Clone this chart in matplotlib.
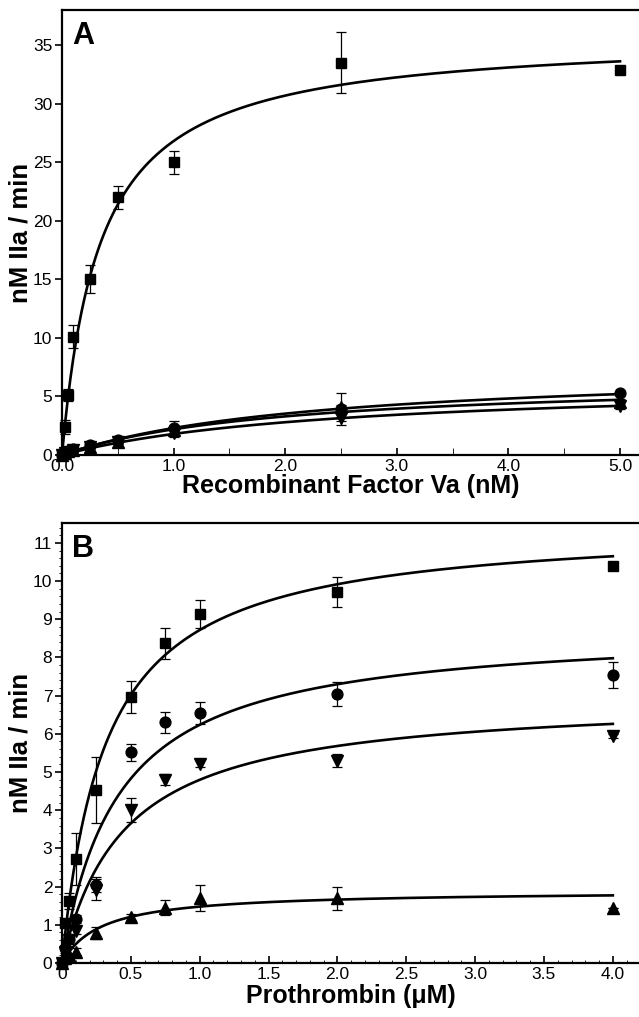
import numpy as np
import matplotlib
matplotlib.use("Agg")
import matplotlib.pyplot as plt
from matplotlib.ticker import MultipleLocator, FixedLocator

plt.rcParams['font.family'] = ['Liberation Sans', 'DejaVu Sans']

# panel A: rate vs recombinant factor Va (nM)
fva = [0, 0.025, 0.05, 0.1, 0.25, 0.5, 1.0, 2.5, 5.0]
a_sq = [0, 2.4, 5.1, 10.1, 15.0, 22.0, 25.0, 33.5, 32.9]
a_sq_err = [0, 0.6, 0.5, 1.0, 1.2, 1.0, 1.0, 2.6, 0]
a_ci = [0, 0.2, 0.35, 0.55, 0.85, 1.25, 2.3, 3.9, 5.3]
a_ci_err = [0, 0, 0, 0.1, 0.15, 0.2, 0.6, 0.4, 0.2]
a_tu = [0, 0.15, 0.3, 0.45, 0.7, 1.15, 2.1, 4.1, 4.5]
a_tu_err = [0, 0, 0, 0.1, 0.1, 0.15, 0.3, 1.2, 0.3]
a_td = [0, 0.15, 0.25, 0.4, 0.65, 1.1, 1.9, 3.2, 4.2]
a_td_err = [0, 0, 0, 0.1, 0.1, 0.15, 0.4, 0.6, 0.3]
# fitted hyperbola parameters (Vmax, Km)
a_fits = {'s': (35.9, 0.339), 'o': (7.6, 2.3), '^': (6.6, 2.0), 'v': (6.3, 2.5)}

# panel B: rate vs prothrombin (uM)
fii = [0, 0.025, 0.05, 0.1, 0.25, 0.5, 0.75, 1.0, 2.0, 4.0]
b_sq = [0, 1.05, 1.62, 2.72, 4.53, 6.97, 8.37, 9.14, 9.71, 10.39]
b_sq_err = [0, 0.1, 0.2, 0.68, 0.87, 0.42, 0.4, 0.37, 0.4, 0]
b_ci = [0, 0.4, 0.62, 1.15, 2.05, 5.52, 6.3, 6.54, 7.04, 7.54]
b_ci_err = [0, 0.05, 0.1, 0.1, 0.2, 0.22, 0.27, 0.29, 0.32, 0.34]
b_td = [0, 0.3, 0.6, 0.85, 1.92, 4.0, 4.8, 5.22, 5.3, 5.95]
b_td_err = [0, 0.05, 0.1, 0.1, 0.28, 0.32, 0.15, 0.1, 0.17, 0.05]
b_tu = [0, 0.12, 0.2, 0.3, 0.78, 1.2, 1.45, 1.7, 1.7, 1.45]
b_tu_err = [0, 0.05, 0.05, 0.1, 0.15, 0.08, 0.2, 0.35, 0.3, 0]
b_fits = {'s': (11.5, 0.319), 'o': (8.8, 0.411), 'v': (6.97, 0.453), '^': (1.896, 0.284)}

msize = {'s': 7.3, 'o': 7.8, '^': 8.3, 'v': 8.3}


def draw(ax, x, series, fits):
    xf = np.linspace(0, max(x), 400)
    for mk, (vmax, km) in fits.items():
        ax.plot(xf, vmax * xf / (km + xf), color='black', lw=1.9, zorder=2, clip_on=False)
    for mk, y, err in series:
        ax.errorbar(x, y, yerr=err, fmt='none', ecolor='black', elinewidth=0.9,
                    capsize=3.3, capthick=0.9, zorder=3, clip_on=False)
        ax.plot(x, y, linestyle='none', marker=mk, ms=msize[mk], color='black',
                zorder=4, clip_on=False)


fig = plt.figure(figsize=(6.39, 10.17), dpi=100)
ax1 = fig.add_axes([0.097, 0.5526, 0.903, 0.4375])
ax2 = fig.add_axes([0.097, 0.0531, 0.903, 0.4326])

draw(ax1, fva, [('s', a_sq, a_sq_err), ('o', a_ci, a_ci_err),
                ('^', a_tu, a_tu_err), ('v', a_td, a_td_err)], a_fits)
draw(ax2, fii, [('s', b_sq, b_sq_err), ('o', b_ci, b_ci_err),
                ('v', b_td, b_td_err), ('^', b_tu, b_tu_err)], b_fits)

for ax in (ax1, ax2):
    ax.spines['right'].set_visible(False)
    for s in ('left', 'bottom', 'top'):
        ax.spines[s].set_linewidth(1.6)
    ax.tick_params(labelsize=12.5, width=1.2)
    ax.tick_params(axis='x', which='both', direction='in', top=False, pad=3)
    ax.tick_params(axis='y', which='both', direction='out', right=False, pad=2)

# top panel axes
ax1.set_xlim(0, 5.17)
ax1.set_ylim(0, 38)
ax1.xaxis.set_major_locator(MultipleLocator(1))
ax1.xaxis.set_minor_locator(MultipleLocator(0.5))
ax1.set_xticklabels([f'{v:.1f}' for v in ax1.get_xticks()])
ax1.yaxis.set_major_locator(FixedLocator([0, 5, 10, 15, 20, 25, 30, 35]))
ax1.tick_params(axis='x', which='both', length=5)
ax1.tick_params(axis='y', which='major', length=5)
ax1.set_xlabel('Recombinant Factor Va (nM)', fontsize=18, fontweight='bold', labelpad=0)
ax1.set_ylabel('nM IIa / min', fontsize=18.5, fontweight='bold')
ax1.yaxis.set_label_coords(-0.051, 0.5)
ax1.text(0.018, 0.975, 'A', transform=ax1.transAxes, fontsize=22, fontweight='bold',
         va='top', ha='left')

# bottom panel axes
ax2.set_xlim(0, 4.19)
ax2.set_ylim(0, 11.52)
ax2.xaxis.set_major_locator(MultipleLocator(0.5))
ax2.xaxis.set_minor_locator(MultipleLocator(0.1))
xt = [0, 0.5, 1.0, 1.5, 2.0, 2.5, 3.0, 3.5, 4.0]
ax2.set_xticks(xt)
ax2.set_xticklabels(['0'] + [f'{v:.1f}' for v in xt[1:]])
ax2.yaxis.set_major_locator(MultipleLocator(1))
ax2.yaxis.set_minor_locator(MultipleLocator(0.2))
ax2.tick_params(axis='x', which='major', length=5)
ax2.tick_params(axis='x', which='minor', length=2.5)
ax2.tick_params(axis='y', which='major', length=5)
ax2.tick_params(axis='y', which='minor', length=2)
ax2.set_xlabel('Prothrombin (\u03bcM)', fontsize=18, fontweight='bold', labelpad=1)
ax2.set_ylabel('nM IIa / min', fontsize=18.5, fontweight='bold')
ax2.yaxis.set_label_coords(-0.051, 0.5)
ax2.text(0.018, 0.975, 'B', transform=ax2.transAxes, fontsize=22, fontweight='bold',
         va='top', ha='left')

fig.savefig('out.png', dpi=100)
